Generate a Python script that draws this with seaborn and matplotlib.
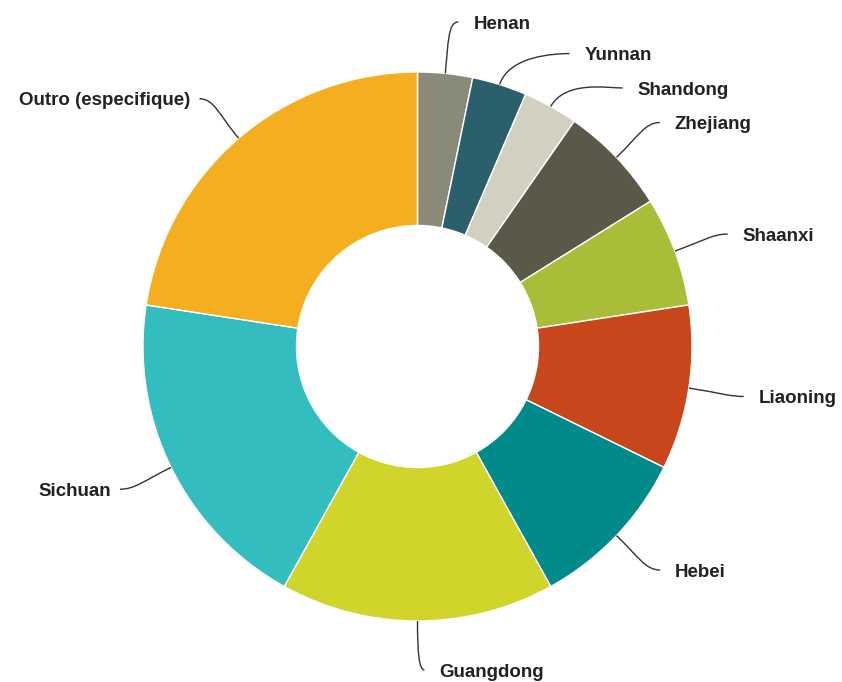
import numpy as np
import matplotlib
matplotlib.use("Agg")
import matplotlib.pyplot as plt
from matplotlib.path import Path
from matplotlib.patches import PathPatch
import seaborn as sns

# Respondents by province
provinces = ["Henan", "Yunnan", "Shandong", "Zhejiang", "Shaanxi",
             "Liaoning", "Hebei", "Guangdong", "Sichuan", "Outro (especifique)"]
counts = [1, 1, 1, 2, 2, 3, 3, 5, 6, 7]
slice_colors = ["#898a78", "#2c5f6c", "#d1d0c1", "#5a5949", "#a9bd39",
                "#c8461b", "#008a8a", "#cfd52a", "#33bdbe", "#f5ae1f"]

# angular nudges (degrees) that keep neighbouring labels apart
label_shift = [1.3, 10.0, 9.4, 0.8, 0.4, 0.0, -0.9, -1.2, 0.5, -0.7]

W, H = 842, 682
sns.set_theme(style="white")
plt.rcParams["font.family"] = ["Liberation Sans", "DejaVu Sans"]

fig = plt.figure(figsize=(W / 100, H / 100), dpi=100)
ax = fig.add_axes([0, 0, 1, 1])

cx, cy = 417.5, H - 346.5
R = 274.5
hole = 121
label_r = 330
font_px = 18.8
y_min, y_max = 12, H - 22   # keep labels inside the canvas

palette = sns.color_palette(slice_colors)
ax.pie(counts, colors=palette, startangle=90, counterclock=False,
       center=(cx, cy), radius=R, frame=True,
       wedgeprops=dict(width=R - hole, edgecolor="white", linewidth=1))
ax.set_xlim(0, W)
ax.set_ylim(0, H)
ax.set_aspect("equal")
ax.axis("off")

total = float(sum(counts))
cum = np.cumsum(counts)
for name, v, c, shift in zip(provinces, counts, cum, label_shift):
    mid = np.radians(360 * (c - v / 2) / total)
    lab = mid + np.radians(shift)
    p0 = np.array([cx + R * np.sin(mid), cy + R * np.cos(mid)])
    c1 = np.array([cx + (R + 30) * np.sin(mid), cy + (R + 30) * np.cos(mid)])
    p2 = np.array([cx + label_r * np.sin(lab), cy + label_r * np.cos(lab)])
    p2[1] = np.clip(p2[1], y_min, y_max)
    side = 1 if np.sin(lab) >= 0 else -1
    back = min(15, 0.8 * abs(p2[0] - p0[0]))
    c2 = p2 - np.array([side * back, 0])
    path = Path([p0, c1, c2, p2], [Path.MOVETO, Path.CURVE4, Path.CURVE4, Path.CURVE4])
    ax.add_patch(PathPatch(path, facecolor="none", edgecolor="#333333", lw=1.0))
    gap = 15 if side > 0 else 9
    ax.text(p2[0] + side * gap, p2[1] - 0.35 * font_px, name,
            ha="left" if side > 0 else "right", va="baseline",
            fontsize=font_px * 72 / 100, fontweight="bold", color="#222222")

fig.savefig("out.png", dpi=100, facecolor="white")
